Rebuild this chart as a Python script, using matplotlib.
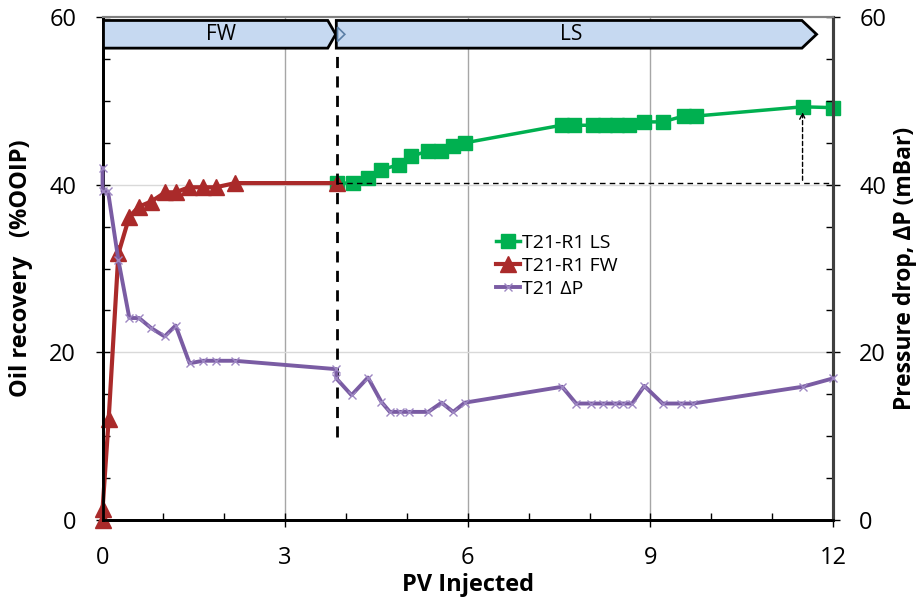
import matplotlib.pyplot as plt
from matplotlib.patches import Polygon
from matplotlib.ticker import MultipleLocator

plt.rcParams['font.family'] = ['Open Sans', 'DejaVu Sans']

# Oil recovery, FW stage (%OOIP)
fw_pv = [0.0, 0.0, 0.1, 0.26, 0.44, 0.6, 0.8, 1.03, 1.2, 1.42, 1.65, 1.86, 2.18, 3.85]
fw_rec = [0.0, 1.3, 12.0, 31.8, 36.2, 37.4, 38.0, 39.1, 39.1, 39.7, 39.7, 39.7, 40.2, 40.2]

# Oil recovery, LS stage (%OOIP)
ls_pv = [3.85, 4.12, 4.36, 4.58, 4.87, 5.07, 5.34, 5.56, 5.75, 5.95, 7.54, 7.75,
         8.05, 8.25, 8.45, 8.65, 8.9, 9.2, 9.55, 9.75, 11.5, 12.0]
ls_rec = [40.2, 40.2, 40.8, 41.8, 42.4, 43.4, 44.0, 44.0, 44.6, 45.0, 47.1, 47.1,
          47.1, 47.1, 47.1, 47.1, 47.5, 47.5, 48.2, 48.2, 49.3, 49.2]

# Pressure drop (mBar)
dp_pv = [0.0, 0.0, 0.09, 0.26, 0.44, 0.6, 0.8, 1.02, 1.2, 1.43, 1.65, 1.86, 2.17,
         3.84, 3.84, 4.09, 4.36, 4.58, 4.72, 4.88, 5.04, 5.35, 5.57, 5.76, 5.95,
         7.55, 7.78, 8.03, 8.22, 8.42, 8.55, 8.7, 8.9, 9.2, 9.5, 9.7, 11.5, 12.0]
dp_val = [42.0, 39.2, 39.2, 31.0, 24.1, 24.1, 22.9, 21.9, 23.2, 18.7, 19.0, 19.0, 19.0,
          18.0, 16.9, 14.9, 17.0, 14.1, 12.9, 12.9, 12.9, 12.9, 14.0, 12.9, 14.0,
          15.9, 13.9, 13.9, 13.9, 13.9, 13.9, 13.9, 16.0, 13.9, 13.9, 13.9, 15.9, 16.9]

x_ticks = [0, 3, 6, 9, 12]
y_ticks = [0, 20, 40, 60]

green = '#00b050'
red = '#aa2a2a'
purple = '#7a5ca3'

fig = plt.figure(figsize=(9.24, 6.03), dpi=100)
ax = fig.add_axes([0.111, 0.1376, 0.7905, 0.834])
ax2 = ax.twinx()

ax.set_xlim(0, 12)
ax.set_ylim(0, 60)
ax2.set_ylim(0, 60)

# grid
for xv in [3, 6, 9]:
    ax.axvline(xv, color='#a6a6a6', lw=1, zorder=0)
for yv in [20, 40]:
    ax.axhline(yv, color='#d9d9d9', lw=1, zorder=0)

l1, = ax.plot(ls_pv, ls_rec, color=green, lw=2.5, marker='s', ms=10,
              label='T21-R1 LS', zorder=5, clip_on=False)
l2, = ax.plot(fw_pv, fw_rec, color=red, lw=3, marker='^', ms=11,
              label='T21-R1 FW', zorder=6, clip_on=False)
l3, = ax2.plot(dp_pv, dp_val, color=purple, lw=2.8, marker='x', ms=6, mew=1,
               mec='#9d87c2', label='T21 ΔP', zorder=4, clip_on=False)

# annotation lines
ax.plot([3.85, 3.85], [9.9, 56.2], color='black', lw=2, ls=(0, (4, 3)), zorder=7)
ax.plot([3.85, 12], [40.2, 40.2], color='black', lw=1, ls=(0, (4, 3)), zorder=7)
ax.annotate('', xy=(11.5, 49.0), xytext=(11.5, 40.2),
            arrowprops=dict(arrowstyle='->', color='black', lw=1, ls=(0, (3, 2))), zorder=7)

# stage banners
y0, y1 = 56.3, 59.6
ym = (y0 + y1) / 2
fw_box = Polygon([(0, y0), (0, y1), (3.7, y1), (3.83, ym), (3.7, y0)], closed=True,
                 facecolor='#c6d9f1', edgecolor='black', lw=2, zorder=8)
ls_box = Polygon([(3.84, y0), (3.84, y1), (11.49, y1), (11.73, ym), (11.49, y0)], closed=True,
                 facecolor='#c6d9f1', edgecolor='black', lw=2, zorder=8)
tip = Polygon([(3.86, 58.8), (3.98, ym), (3.86, 57.1)], closed=True,
              facecolor='#c6d9f1', edgecolor='#5b7fa6', lw=1.2, zorder=9)
for p in (fw_box, ls_box, tip):
    ax.add_patch(p)
ax.text(1.95, ym, 'FW', ha='center', va='center', fontsize=15, zorder=10)
ax.text(7.7, ym, 'LS', ha='center', va='center', fontsize=15, zorder=10)

# ticks
ax.set_xticks(x_ticks)
ax.set_yticks(y_ticks)
ax2.set_yticks(y_ticks)
ax.xaxis.set_minor_locator(MultipleLocator(1))
ax.yaxis.set_minor_locator(MultipleLocator(5))
ax2.yaxis.set_minor_locator(MultipleLocator(5))
ax.tick_params(axis='x', which='major', direction='inout', length=10, width=1, labelsize=17, pad=14)
ax.tick_params(axis='x', which='minor', direction='in', length=5, width=1)
ax.tick_params(axis='y', which='major', direction='inout', length=10, width=1, labelsize=17, pad=14)
ax.tick_params(axis='y', which='minor', direction='in', length=5, width=1)
ax2.tick_params(axis='y', which='major', direction='inout', length=10, width=1, labelsize=17, pad=14)
ax2.tick_params(axis='y', which='minor', direction='in', length=5, width=1)

for a in (ax, ax2):
    a.spines['left'].set_linewidth(2)
    a.spines['bottom'].set_linewidth(2)
    a.spines['right'].set_linewidth(2.2)
    a.spines['right'].set_color('#404040')
    a.spines['top'].set_linewidth(1.5)
    a.spines['top'].set_color('#808080')

ax.set_xlabel('PV Injected', fontsize=17, fontweight='bold', labelpad=2)
ax.set_ylabel('Oil recovery   (%OOIP)', fontsize=17, fontweight='bold', labelpad=12)
ax2.set_ylabel('Pressure drop, ΔP (mBar)', fontsize=16.5, fontweight='bold', labelpad=5)

ax.legend(handles=[l1, l2, l3], loc='center left', bbox_to_anchor=(0.515, 0.505),
          frameon=False, fontsize=14, handlelength=1.2, handletextpad=0.15,
          labelspacing=0.25)

fig.savefig('out.png', dpi=100)
